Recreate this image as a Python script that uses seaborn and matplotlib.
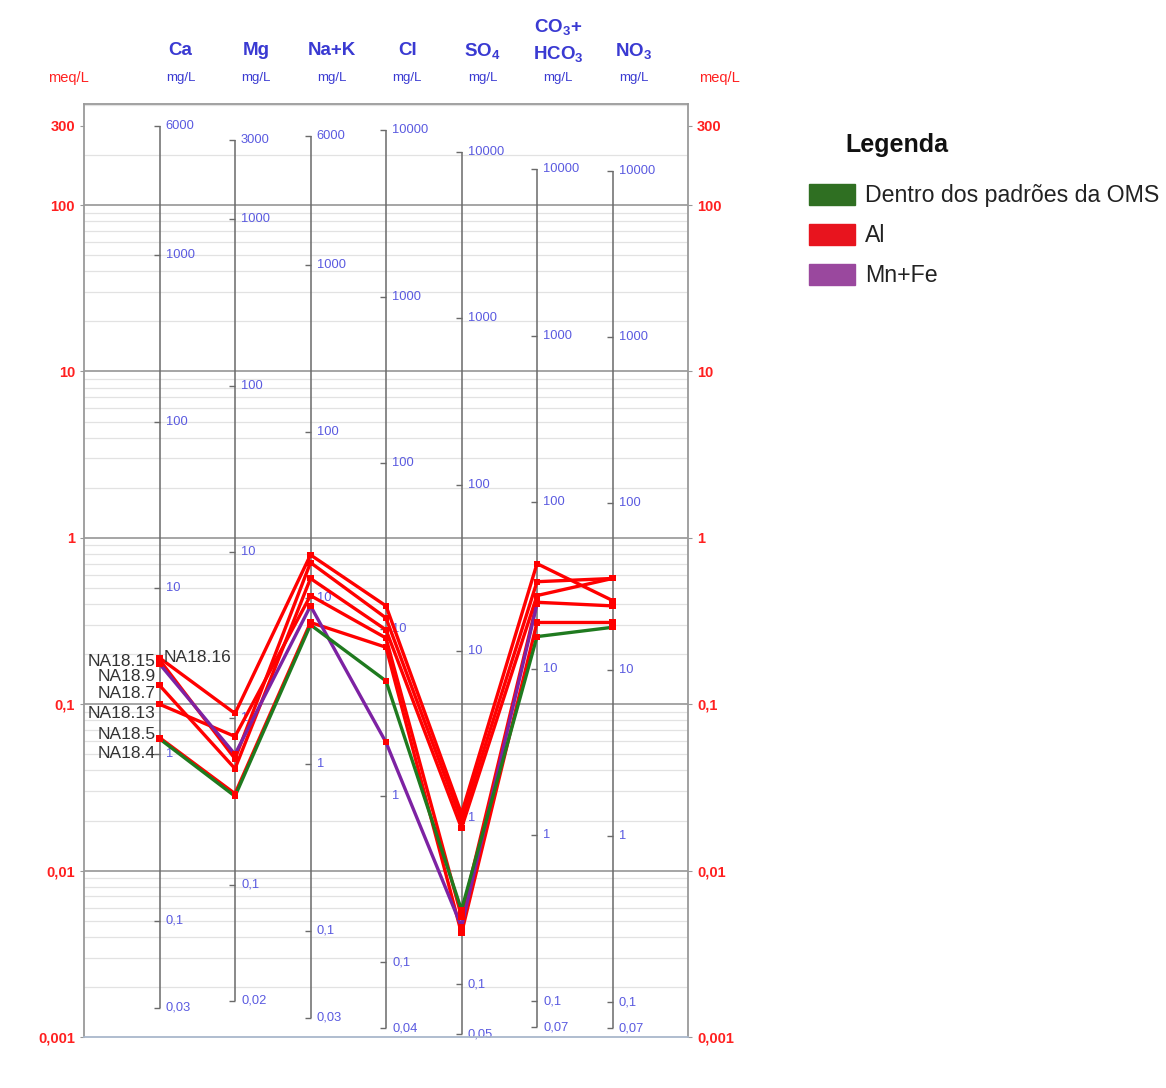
import numpy as np
import pandas as pd
import matplotlib
matplotlib.use("Agg")
import matplotlib.pyplot as plt
from matplotlib.patches import Patch
from matplotlib.ticker import FixedLocator, LogLocator, NullFormatter
import seaborn as sns

# ions (columns of the Schoeller diagram)
ions = ["Ca", "Mg", "Na+K", "Cl", "SO4", "HCO3", "NO3"]
ion_titles = ["Ca", "Mg", "Na+K", "Cl", "SO$_4$", "HCO$_3$", "NO$_3$"]
eq_weight = [20.04, 12.15, 23.0, 35.45, 48.03, 61.02, 62.0]  # mg per meq

# mg/L scale labels on each column (top .. bottom)
mg_ticks = [
    [6000, 1000, 100, 10, 1, 0.1, 0.03],
    [3000, 1000, 100, 10, 1, 0.1, 0.02],
    [6000, 1000, 100, 10, 1, 0.1, 0.03],
    [10000, 1000, 100, 10, 1, 0.1, 0.04],
    [10000, 1000, 100, 10, 1, 0.1, 0.05],
    [10000, 1000, 100, 10, 1, 0.1, 0.07],
    [10000, 1000, 100, 10, 1, 0.1, 0.07],
]

# samples and their group
samples = ["NA18.15", "NA18.16", "NA18.9", "NA18.7", "NA18.13", "NA18.5", "NA18.4"]
groups = ["Al", "Al", "Mn+Fe", "Al", "Al", "Al", "Dentro dos padrões da OMS"]

# meq/L values, one list per ion, in sample order
ca = [0.19, 0.185, 0.175, 0.13, 0.10, 0.063, 0.062]
mg = [0.088, 0.047, 0.050, 0.041, 0.064, 0.029, 0.028]
na_k = [0.79, 0.71, 0.39, 0.57, 0.45, 0.31, 0.30]
cl = [0.39, 0.33, 0.059, 0.28, 0.25, 0.22, 0.138]
so4 = [0.022, 0.020, 0.0046, 0.018, 0.0053, 0.0042, 0.0058]
hco3 = [0.70, 0.545, 0.40, 0.45, 0.41, 0.31, 0.255]
no3 = [0.42, 0.57, np.nan, 0.57, 0.39, 0.31, 0.29]

group_colors = {
    "Dentro dos padrões da OMS": "#1f7a1f",
    "Al": "#ff0000",
    "Mn+Fe": "#7d22a3",
}
legend_colors = {
    "Dentro dos padrões da OMS": "#2f6f22",
    "Al": "#e8141e",
    "Mn+Fe": "#9a489e",
}

y_ticks = [0.001, 0.01, 0.1, 1, 10, 100, 300]
y_ticklabels = ["0,001", "0,01", "0,1", "1", "10", "100", "300"]

# long table for seaborn
values = [ca, mg, na_k, cl, so4, hco3, no3]
rows = []
for i, ion in enumerate(ions):
    for j, s in enumerate(samples):
        rows.append({"sample": s, "group": groups[j], "pos": i + 1, "meq": values[i][j]})
df = pd.DataFrame(rows).dropna()

sns.set_style("white")
plt.rcParams["font.family"] = ["Liberation Sans", "DejaVu Sans"]
plt.rcParams["mathtext.default"] = "regular"

fig = plt.figure(figsize=(11.66, 10.88), dpi=100)
ax = fig.add_axes([84 / 1166, 51 / 1088, 604 / 1166, 933 / 1088])
ax.set_yscale("log")
ax.set_xlim(0, 8)
ax.set_ylim(0.001, 405)

# grid
ax.yaxis.set_minor_locator(LogLocator(base=10, subs=np.arange(2, 10)))
ax.yaxis.set_minor_formatter(NullFormatter())
ax.grid(which="minor", axis="y", color="#e2e2e2", lw=0.9)
ax.hlines([0.01, 0.1, 1, 10, 100], 0, 8, color="#a5a5a5", lw=1.4, zorder=0.5)
ax.yaxis.set_major_locator(FixedLocator(y_ticks))
ax.set_yticklabels(y_ticklabels)
ax.tick_params(axis="y", which="major", labelleft=True, labelright=True, left=True, right=True,
               length=3, color="#999999", labelcolor="#ff2020", labelsize=10.5)
ax.tick_params(axis="y", which="minor", length=0)
for lab in ax.get_yticklabels():
    lab.set_fontweight("bold")
ax.set_xticks([])
for side in ["top", "left", "right"]:
    ax.spines[side].set_color("#9a9a9a")
    ax.spines[side].set_linewidth(1.3)
ax.spines["bottom"].set_color("#a9b8cc")
ax.spines["bottom"].set_linewidth(1.3)

# mg/L scale on each column
for i in range(len(ions)):
    x = i + 1
    meq_t = [v / eq_weight[i] for v in mg_ticks[i]]
    ax.vlines(x, min(meq_t), max(meq_t), color="#6a6a6a", lw=1.1, zorder=1)
    ax.plot([x] * len(meq_t), meq_t, ls="none", marker=0, ms=4, color="#6a6a6a", zorder=1)
    for v, m in zip(mg_ticks[i], meq_t):
        ax.text(x + 0.08, m, f"{v:g}".replace(".", ","), fontsize=9.3, color="#5a5ae0",
                va="center", ha="left", zorder=1)

# lines per sample (red first, then purple, then green on top)
draw_order = [s for s, g in zip(samples, groups) if g == "Al"] + \
             [s for s, g in zip(samples, groups) if g == "Mn+Fe"] + \
             [s for s, g in zip(samples, groups) if g.startswith("Dentro")]
palette = {s: group_colors[g] for s, g in zip(samples, groups)}
sns.lineplot(data=df, x="pos", y="meq", hue="sample", hue_order=draw_order, palette=palette,
             estimator=None, sort=False, lw=2.4, legend=False, ax=ax, zorder=3)
sns.scatterplot(data=df, x="pos", y="meq", marker="s", color="#ff0000", s=19,
                edgecolor="none", legend=False, ax=ax, zorder=4)
ax.set_xlabel("")
ax.set_ylabel("")
ax.set_xticks([])

# sample names next to the first column
label_offsets = [(-4, -4), (4, 2), (-4, -13), (-4, -8), (-4, -9), (-4, 3), (-4, -15)]
for j, s in enumerate(samples):
    dx, dy = label_offsets[j]
    ax.annotate(s, (1, ca[j]), xytext=(dx, dy), textcoords="offset pixels",
                ha="left" if dx > 0 else "right", va="center", fontsize=12.5, color="#333333",
                zorder=5)

# column headers
tr = ax.get_xaxis_transform()
hx = 0.28
for i, t in enumerate(ion_titles):
    y = 1.057
    if ions[i] == "HCO3":
        ax.text(i + 1 + hx, 1.082, "CO$_3$+", transform=tr, ha="center", va="center",
                fontsize=13.5, fontweight="bold", color="#3a3ad2")
        y = 1.054
    ax.text(i + 1 + hx, y, t, transform=tr, ha="center", va="center",
            fontsize=13.5, fontweight="bold", color="#3a3ad2")
    ax.text(i + 1 + hx, 1.028, "mg/L", transform=tr, ha="center", va="center",
            fontsize=9.5, color="#3a3ad2")
ax.text(-0.21, 1.028, "meq/L", transform=tr, ha="center", va="center", fontsize=10.5,
        color="#ff2020")
ax.text(8.42, 1.028, "meq/L", transform=tr, ha="center", va="center", fontsize=10.5,
        color="#ff2020")

# legend
leg_names = ["Dentro dos padrões da OMS", "Al", "Mn+Fe"]
handles = [Patch(facecolor=legend_colors[n], edgecolor=legend_colors[n]) for n in leg_names]
fig.text(845 / 1166, 1 - 145 / 1088, "Legenda", fontsize=18, fontweight="bold",
         color="#111111", va="center", ha="left")
fig.legend(handles, leg_names, loc="upper left", bbox_to_anchor=(809 / 1166, 1 - 184 / 1088),
           frameon=False, fontsize=16.7, handlelength=2.0, handleheight=1.0,
           labelspacing=0.72, handletextpad=0.4, borderpad=0, borderaxespad=0,
           labelcolor="#222222")

fig.savefig("out.png", dpi=100, facecolor="white")
